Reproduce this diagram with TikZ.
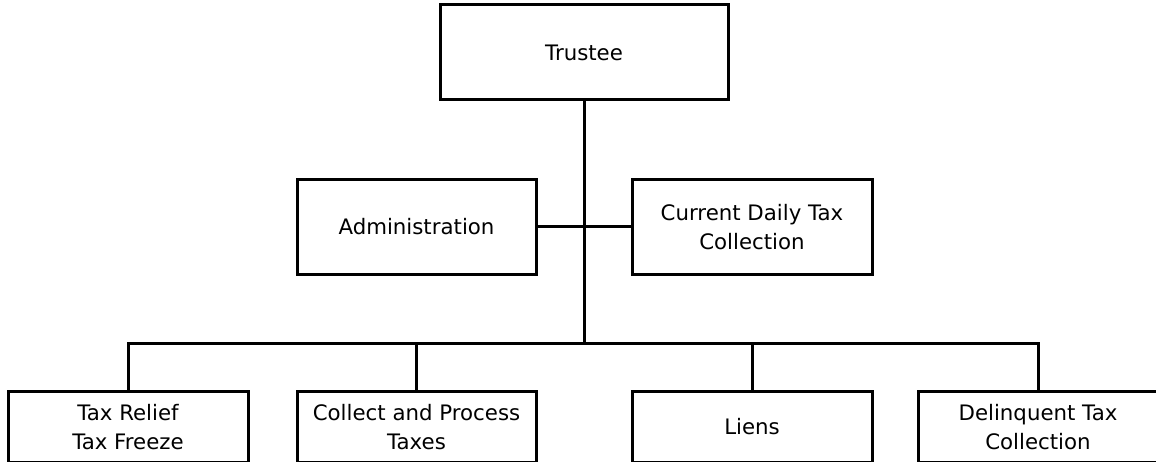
\documentclass[tikz,border=0pt]{standalone}
\usepackage{fontspec}
\setmainfont{DejaVu Sans}
\begin{document}
\begin{tikzpicture}[x=1pt,y=-1pt,
  box/.style={draw=black, line width=3pt, inner sep=0pt, align=center,
    font=\fontsize{21.3}{29}\selectfont},
  conn/.style={draw=black, line width=3pt}]
\useasboundingbox (0,0) rectangle (1156,462);
\node[box, minimum width=288pt, minimum height=95pt] (trustee) at (584,52.5) {Trustee};
\node[box, minimum width=239pt, minimum height=95pt] (admin) at (416.5,227) {Administration};
\node[box, minimum width=240pt, minimum height=95pt] (current) at (752,227) {Current Daily Tax\\Collection};
\node[box, minimum width=240pt, minimum height=71.5pt] (relief) at (128,426.75) {Tax Relief\\Tax Freeze};
\node[box, minimum width=239pt, minimum height=71.5pt] (collect) at (416.5,426.75) {Collect and Process\\Taxes};
\node[box, minimum width=240pt, minimum height=71.5pt] (liens) at (752,426.75) {Liens};
\node[box, minimum width=240pt, minimum height=71.5pt] (delinq) at (1038,426.75) {Delinquent Tax\\Collection};
\coordinate (bus) at (584,343);
\draw[conn] (trustee.south) -- (bus);
\draw[conn] (admin.east) -- (current.west);
\draw[conn] (relief.north) -- (relief.north |- bus) -- (delinq.north |- bus) -- (delinq.north);
\draw[conn] (collect.north) -- (collect.north |- bus);
\draw[conn] (liens.north) -- (liens.north |- bus);
\end{tikzpicture}
\end{document}
